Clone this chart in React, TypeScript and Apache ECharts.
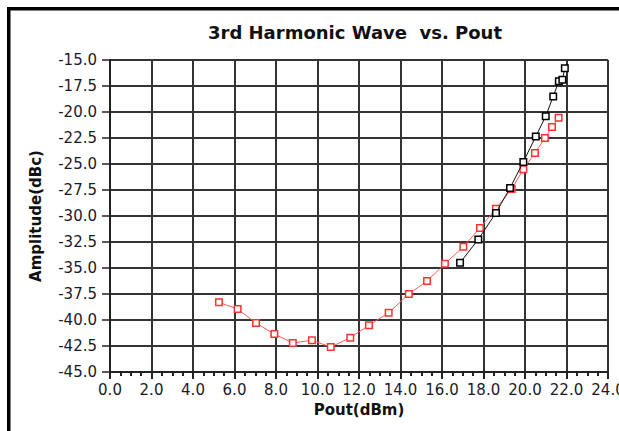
import React, { useEffect, useRef } from "react";
import * as echarts from "echarts";

const titleText = "3rd Harmonic Wave  vs. Pout";
const xAxisName = "Pout(dBm)";
const yAxisName = "Amplitude(dBc)";

const blackX = [16.87, 17.75, 18.6, 19.28, 19.92, 20.52, 21.0, 21.36, 21.63, 21.8, 21.92];
const blackY = [-34.5, -32.25, -29.7, -27.3, -24.8, -22.35, -20.4, -18.5, -17.05, -16.9, -15.8];

const redX = [5.25, 6.15, 7.04, 7.92, 8.81, 9.73, 10.64, 11.58, 12.48, 13.43, 14.4, 15.28, 16.14, 17.03, 17.83, 18.6, 19.36, 19.92, 20.48, 20.96, 21.3, 21.62];
const redY = [-38.3, -38.95, -40.3, -41.35, -42.2, -41.95, -42.6, -41.7, -40.5, -39.3, -37.5, -36.25, -34.6, -32.95, -31.15, -29.3, -27.4, -25.5, -23.95, -22.5, -21.45, -20.55];

const xMin = 0, xMax = 24, xStep = 2;
const yMin = -45, yMax = -15, yStep = 2.5;

const pairs = (xs: number[], ys: number[]) => xs.map((x, i) => [x, ys[i]]);

export default function App() {
  const ref = useRef<HTMLDivElement>(null);
  useEffect(() => {
    if (!ref.current) return;
    const chart = echarts.init(ref.current, null, { renderer: "svg" });
    const font = "DejaVu Sans";
    const gridColor = "#333";
    chart.setOption({
      animation: false,
      backgroundColor: "#fff",
      title: {
        text: titleText,
        left: 350,
        textAlign: "center",
        top: 18,
        textStyle: { fontFamily: font, fontWeight: "bold", fontSize: 18, color: "#111" },
      },
      graphic: [
        { type: "rect", shape: { x: 7, y: 7, width: 612, height: 3.5 }, style: { fill: "#000" } },
        { type: "rect", shape: { x: 7, y: 7, width: 3.5, height: 424 }, style: { fill: "#000" } },
      ],
      grid: { left: 110, right: 11, top: 60, bottom: 59, show: false, outerBoundsMode: "none", containLabel: false },
      xAxis: {
        type: "value",
        min: xMin,
        max: xMax,
        interval: xStep,
        name: xAxisName,
        nameLocation: "middle",
        nameGap: 30,
        nameTextStyle: { fontFamily: font, fontWeight: "bold", fontSize: 15, color: "#111" },
        axisLine: { show: true, onZero: false, lineStyle: { color: "#222", width: 2 } },
        axisTick: { show: true, length: 7, lineStyle: { color: "#222", width: 2 } },
        minorTick: { show: true, splitNumber: 4, length: 4, lineStyle: { color: "#222", width: 2 } },
        axisLabel: {
          fontFamily: font,
          fontSize: 15,
          color: "#1a1a2a",
          margin: 10,
          hideOverlap: false,
          formatter: (v: number) => v.toFixed(1),
        },
        splitLine: { show: true, lineStyle: { color: gridColor, width: 2 } },
      },
      yAxis: {
        type: "value",
        min: yMin,
        max: yMax,
        interval: yStep,
        name: yAxisName,
        nameLocation: "middle",
        nameRotate: 90,
        nameGap: 67,
        nameTextStyle: { fontFamily: font, fontWeight: "bold", fontSize: 15, color: "#111" },
        axisLine: { show: true, onZero: false, lineStyle: { color: "#222", width: 2 } },
        axisTick: { show: true, length: 8, lineStyle: { color: "#222", width: 1.5 } },
        axisLabel: {
          fontFamily: font,
          fontSize: 15,
          color: "#1a1a2a",
          margin: 13,
          formatter: (v: number) => v.toFixed(1),
        },
        splitLine: { show: true, lineStyle: { color: gridColor, width: 2 } },
      },
      series: [
        {
          type: "line",
          data: pairs(redX, redY),
          symbol: "rect",
          symbolSize: 6.5,
          showSymbol: true,
          lineStyle: { color: "#ff5a5a", width: 1 },
          itemStyle: { color: "#fff", borderColor: "#ff3030", borderWidth: 1.5 },
          z: 3,
        },
        {
          type: "line",
          data: pairs(blackX, blackY),
          symbol: "rect",
          symbolSize: 6.5,
          showSymbol: true,
          lineStyle: { color: "#111", width: 1 },
          itemStyle: { color: "#fff", borderColor: "#000", borderWidth: 1.5 },
          z: 4,
        },
      ],
    });
    return () => chart.dispose();
  }, []);
  return (
    <div
      ref={ref}
      style={{ position: "fixed", left: 0, top: 0, width: 619, height: 431, background: "#fff" }}
    />
  );
}
